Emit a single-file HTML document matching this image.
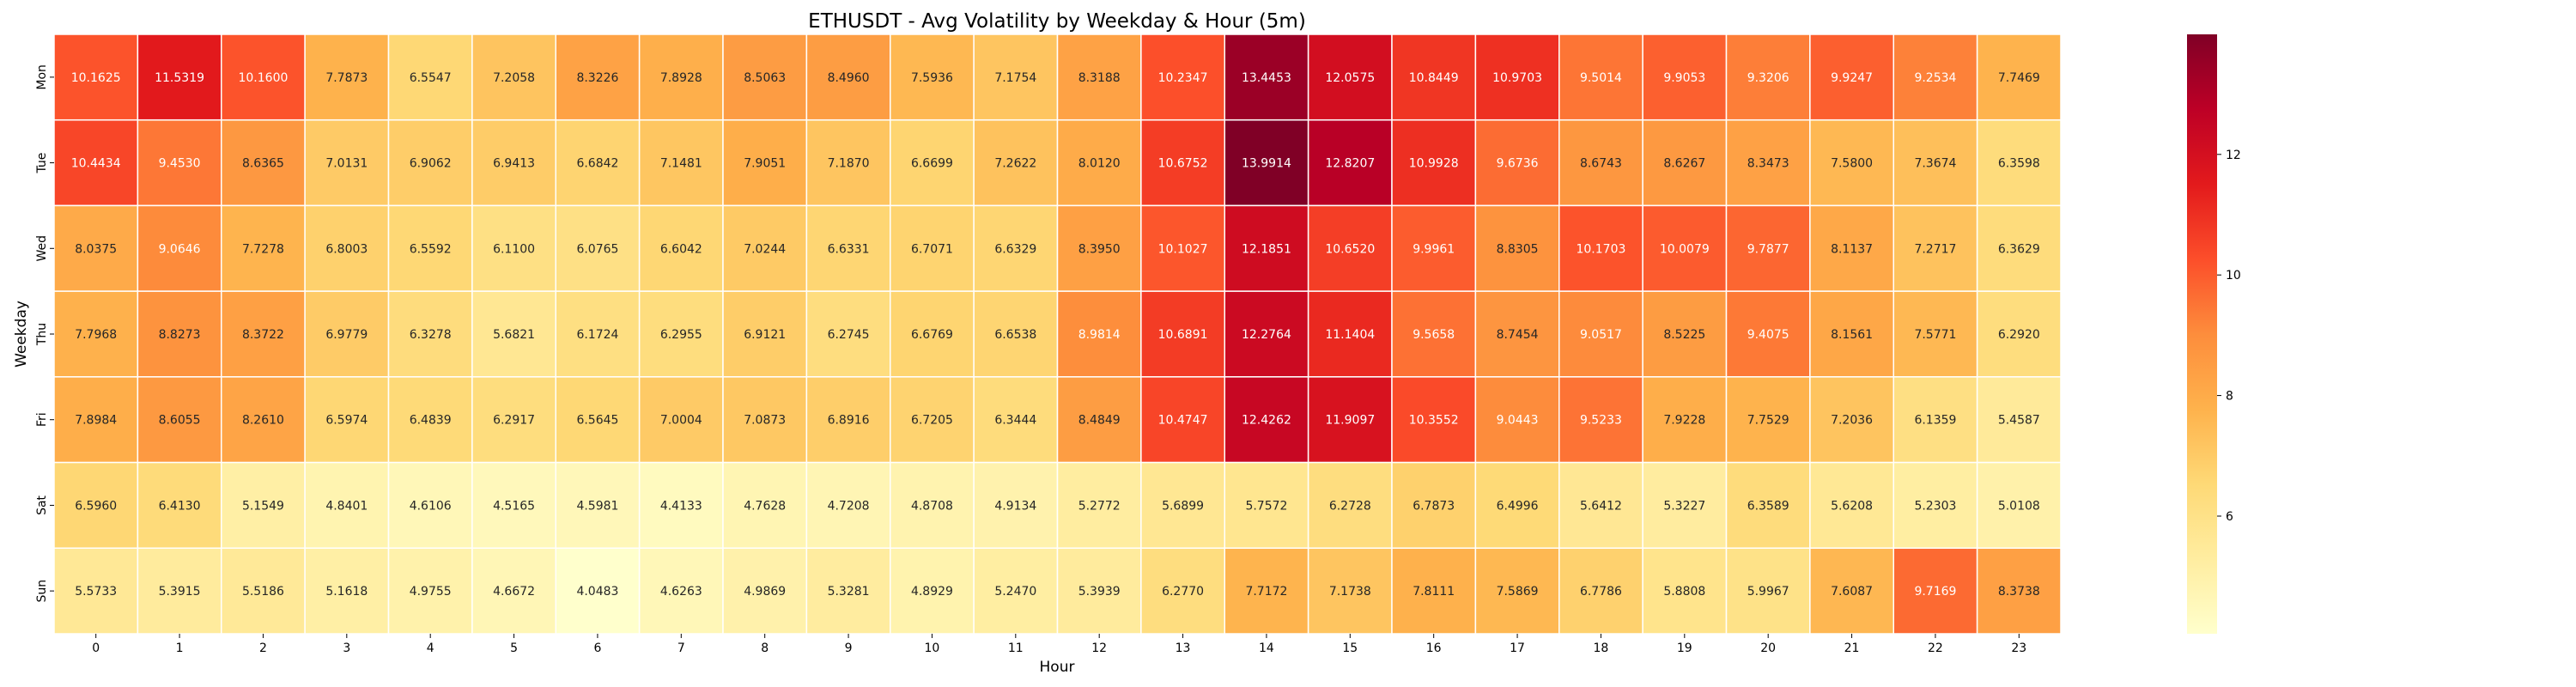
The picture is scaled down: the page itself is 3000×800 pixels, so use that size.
<!DOCTYPE html>
<html><head><meta charset="utf-8"><style>
html,body{margin:0;padding:0;background:#fff;}
svg{display:block;font-family:"DejaVu Sans","Liberation Sans",sans-serif;}
</style></head><body>
<svg id="chart" width="3000" height="800" viewBox="0 0 3000 800">
<defs><linearGradient id="cbgrad" x1="0" y1="1" x2="0" y2="0">
<stop offset="0" stop-color="#ffffcc"/><stop offset="0.125" stop-color="#ffeda0"/><stop offset="0.25" stop-color="#fed976"/><stop offset="0.375" stop-color="#feb24c"/><stop offset="0.5" stop-color="#fd8d3c"/><stop offset="0.625" stop-color="#fc4e2a"/><stop offset="0.75" stop-color="#e31a1c"/><stop offset="0.875" stop-color="#bd0026"/><stop offset="1" stop-color="#800026"/>
</linearGradient></defs>
<text x="1231" y="32" font-size="23" text-anchor="middle">ETHUSDT - Avg Volatility by Weekday &amp; Hour (5m)</text>
<g id="cells"></g>
<g id="axes"></g>
<text x="30" y="389" font-size="17" text-anchor="middle" transform="rotate(-90 30 389)">Weekday</text>
<text x="1231" y="782" font-size="17" text-anchor="middle">Hour</text>
<rect x="2547" y="40" width="35" height="698" fill="url(#cbgrad)"/>
<g id="cbticks"></g>
</svg>
<script>
const days = ["Mon","Tue","Wed","Thu","Fri","Sat","Sun"];
const hours = ["0","1","2","3","4","5","6","7","8","9","10","11","12","13","14","15","16","17","18","19","20","21","22","23"];
const mon = [10.1625,11.5319,10.1600,7.7873,6.5547,7.2058,8.3226,7.8928,8.5063,8.4960,7.5936,7.1754,8.3188,10.2347,13.4453,12.0575,10.8449,10.9703,9.5014,9.9053,9.3206,9.9247,9.2534,7.7469];
const tue = [10.4434,9.4530,8.6365,7.0131,6.9062,6.9413,6.6842,7.1481,7.9051,7.1870,6.6699,7.2622,8.0120,10.6752,13.9914,12.8207,10.9928,9.6736,8.6743,8.6267,8.3473,7.5800,7.3674,6.3598];
const wed = [8.0375,9.0646,7.7278,6.8003,6.5592,6.1100,6.0765,6.6042,7.0244,6.6331,6.7071,6.6329,8.3950,10.1027,12.1851,10.6520,9.9961,8.8305,10.1703,10.0079,9.7877,8.1137,7.2717,6.3629];
const thu = [7.7968,8.8273,8.3722,6.9779,6.3278,5.6821,6.1724,6.2955,6.9121,6.2745,6.6769,6.6538,8.9814,10.6891,12.2764,11.1404,9.5658,8.7454,9.0517,8.5225,9.4075,8.1561,7.5771,6.2920];
const fri = [7.8984,8.6055,8.2610,6.5974,6.4839,6.2917,6.5645,7.0004,7.0873,6.8916,6.7205,6.3444,8.4849,10.4747,12.4262,11.9097,10.3552,9.0443,9.5233,7.9228,7.7529,7.2036,6.1359,5.4587];
const sat = [6.5960,6.4130,5.1549,4.8401,4.6106,4.5165,4.5981,4.4133,4.7628,4.7208,4.8708,4.9134,5.2772,5.6899,5.7572,6.2728,6.7873,6.4996,5.6412,5.3227,6.3589,5.6208,5.2303,5.0108];
const sun = [5.5733,5.3915,5.5186,5.1618,4.9755,4.6672,4.0483,4.6263,4.9869,5.3281,4.8929,5.2470,5.3939,6.2770,7.7172,7.1738,7.8111,7.5869,6.7786,5.8808,5.9967,7.6087,9.7169,8.3738];
const cbTicks = [6,8,10,12];

const rows = [mon,tue,wed,thu,fri,sat,sun];
const NS="http://www.w3.org/2000/svg";
const X0=63,X1=2400,Y0=40,Y1=738;
const cw=(X1-X0)/hours.length, ch=(Y1-Y0)/days.length;
const all=rows.flat(); const vmin=Math.min(...all), vmax=Math.max(...all);
const stops=["#ffffcc","#ffeda0","#fed976","#feb24c","#fd8d3c","#fc4e2a","#e31a1c","#bd0026","#800026"].map(h=>[1,3,5].map(i=>parseInt(h.substr(i,2),16)));
function cmap(v){let t=(v-vmin)/(vmax-vmin);t=Math.max(0,Math.min(1,t))*(stops.length-1);const i=Math.min(Math.floor(t),stops.length-2),f=t-i;return stops[i].map((c,k)=>Math.round(c+(stops[i+1][k]-c)*f));}
function lum(c){const l=c.map(x=>{x/=255;return x<=0.03928?x/12.92:Math.pow((x+0.055)/1.055,2.4);});return 0.2126*l[0]+0.7152*l[1]+0.0722*l[2];}
const xPos=i=>X0+i*cw, yPos=j=>Y0+j*ch;
const cbY=v=>Y1-(v-vmin)/(vmax-vmin)*(Y1-Y0);
function mk(tag,attrs,parent){const e=document.createElementNS(NS,tag);for(const k in attrs)e.setAttribute(k,attrs[k]);parent.appendChild(e);return e;}
const cells=document.getElementById('cells'), axes=document.getElementById('axes'), cbt=document.getElementById('cbticks');
rows.forEach((r,j)=>r.forEach((v,i)=>{
  const c=cmap(v);
  const rect=mk('rect',{x:xPos(i),y:yPos(j),width:cw,height:ch,fill:`rgb(${c})`,stroke:'#fff','stroke-width':1.5},cells);
  
  
  const t=mk('text',{x:xPos(i)+cw/2,y:yPos(j)+ch/2+5,'font-size':14,'text-anchor':'middle',fill:lum(c)<0.408?'#ffffff':'#262626'},cells);
  t.textContent=v.toFixed(4);
  
  
}));
hours.forEach((h,i)=>{
  const x=xPos(i)+cw/2;
  const l=mk('line',{x1:x,x2:x,y1:Y1,y2:Y1+5,stroke:'#000','stroke-width':1},axes);
  
  
  const t=mk('text',{x:x,y:Y1+21,'font-size':14,'text-anchor':'middle'},axes);
  t.textContent=h;
  
  
});
days.forEach((d,j)=>{
  const y=yPos(j)+ch/2;
  const l=mk('line',{x1:X0-5,x2:X0,y1:y,y2:y,stroke:'#000','stroke-width':1},axes);
  
  
  const t=mk('text',{x:X0-10,y:y,'font-size':14,'text-anchor':'middle',transform:`rotate(-90 ${X0-10} ${y})`,'dominant-baseline':'auto'},axes);
  t.textContent=d;
  
  
});
cbTicks.forEach(v=>{
  const y=cbY(v);
  const l=mk('line',{x1:2582,x2:2587,y1:y,y2:y,stroke:'#000','stroke-width':1},cbt);
  
  
  const t=mk('text',{x:2592,y:y+5,'font-size':14},cbt);
  t.textContent=v;
  
  
});
</script>
</body></html>
